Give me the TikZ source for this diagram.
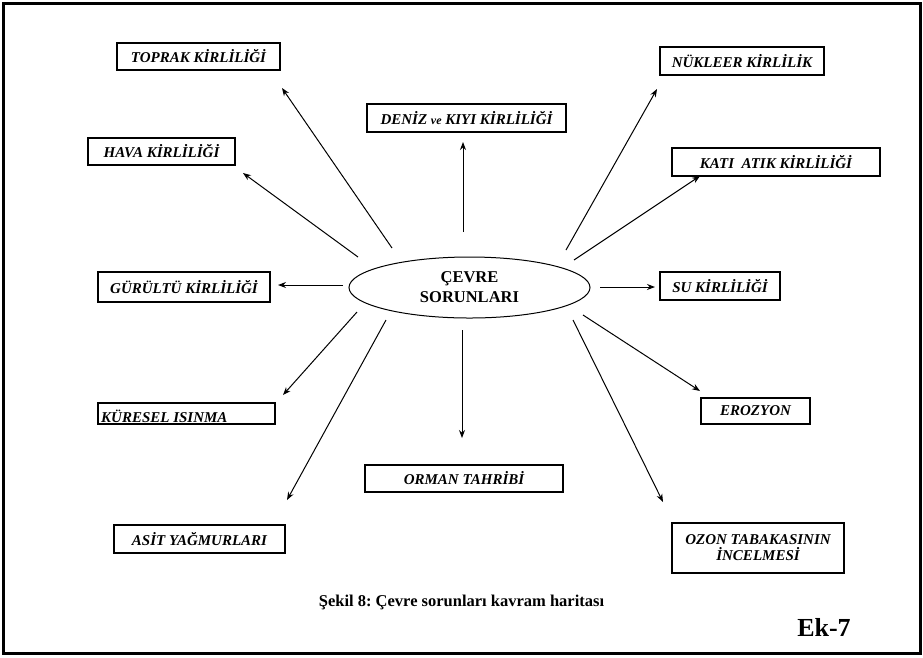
\documentclass[tikz,border=0pt]{standalone}
\usepackage{fontspec}
\setmainfont{Liberation Serif}
\frenchspacing
\usetikzlibrary{arrows,arrows.meta,shapes}
\tikzset{
    kutu/.style={draw=black, line width=1.1pt, rectangle, inner sep=0pt,
        font=\bfseries\itshape\fontsize{15}{16}\selectfont},
    merkez/.style={draw=black, line width=1pt, ellipse, inner sep=0pt,
        minimum width=241pt, minimum height=61pt, align=center,
        font=\bfseries\fontsize{16.5}{20}\selectfont},
    ok/.style={draw=black, line width=1pt, -{Stealth[length=8pt,width=6pt]}},
}

\begin{document}
\begin{tikzpicture}[x=1pt, y=-1pt]
	\useasboundingbox (0,0) rectangle (923,657);
	\draw[line width=3pt] (3,3) rectangle (920,653);
	% merkez
	\node[merkez] (cevre) at (469.5,287.5) {ÇEVRE\\SORUNLARI};
	% kutular
	\node[kutu, minimum width=163pt, minimum height=27pt] (toprak) at (198.5,56.5) {TOPRAK KİRLİLİĞİ};
	\node[kutu, minimum width=199pt, minimum height=28pt] (deniz) at (466.5,118) {DENİZ {\fontsize{12}{14}\selectfont ve} KIYI KİRLİLİĞİ};
	\node[kutu, minimum width=164pt, minimum height=28pt] (nukleer) at (742,61) {NÜKLEER KİRLİLİK};
	\node[kutu, minimum width=147pt, minimum height=27pt] (hava) at (161.5,151.5) {HAVA KİRLİLİĞİ};
	\node[kutu, minimum width=208pt, minimum height=28pt] (kati) at (776,162) {KATI\ \ ATIK KİRLİLİĞİ};
	\node[kutu, minimum width=172pt, minimum height=30pt] (gurultu) at (184,287) {GÜRÜLTÜ KİRLİLİĞİ};
	\node[kutu, minimum width=120pt, minimum height=28pt] (su) at (720,286) {SU KİRLİLİĞİ};
	\draw[line width=1.1pt] (98,403) rectangle (275,424);
	\node[anchor=base west, inner sep=0pt, font=\bfseries\itshape\fontsize{15}{16}\selectfont] (kuresel) at (101,422) {KÜRESEL ISINMA};
	\node[kutu, minimum width=198pt, minimum height=27pt] (orman) at (464,478.5) {ORMAN TAHRİBİ};
	\node[kutu, minimum width=109pt, minimum height=26pt] (erozyon) at (755.5,411) {EROZYON};
	\node[kutu, minimum width=172pt, minimum height=50pt, align=center] (ozon) at (758,548) {OZON TABAKASININ\\İNCELMESİ};
	\node[kutu, minimum width=171pt, minimum height=28pt] (asit) at (199.5,539) {ASİT YAĞMURLARI};
	% oklar
	\coordinate (toprak-a) at (392,248);  \coordinate (toprak-b) at (282,88);
	\coordinate (deniz-a) at (463,232);   \coordinate (deniz-b) at (463,142);
	\coordinate (nukleer-a) at (566,250); \coordinate (nukleer-b) at (657,89);
	\coordinate (hava-a) at (358,257);    \coordinate (hava-b) at (243,173);
	\coordinate (kati-a) at (574,260);    \coordinate (kati-b) at (700,176);
	\coordinate (gurultu-a) at (343,285); \coordinate (gurultu-b) at (278,285);
	\coordinate (su-a) at (600,287);      \coordinate (su-b) at (655,287);
	\coordinate (kuresel-a) at (357,312); \coordinate (kuresel-b) at (283,395);
	\coordinate (orman-a) at (462,330);   \coordinate (orman-b) at (462,438);
	\coordinate (erozyon-a) at (583,315); \coordinate (erozyon-b) at (700,391);
	\coordinate (asit-a) at (386,320);    \coordinate (asit-b) at (287,500);
	\coordinate (ozon-a) at (573,320);    \coordinate (ozon-b) at (663,502);
	\draw[ok] (toprak-a) -- (toprak-b);
	\draw[ok] (deniz-a) -- (deniz-b);
	\draw[ok] (nukleer-a) -- (nukleer-b);
	\draw[ok] (hava-a) -- (hava-b);
	\draw[ok] (kati-a) -- (kati-b);
	\draw[ok] (gurultu-a) -- (gurultu-b);
	\draw[ok] (su-a) -- (su-b);
	\draw[ok] (kuresel-a) -- (kuresel-b);
	\draw[ok] (orman-a) -- (orman-b);
	\draw[ok] (erozyon-a) -- (erozyon-b);
	\draw[ok] (asit-a) -- (asit-b);
	\draw[ok] (ozon-a) -- (ozon-b);
	% alt yazilar
	\node[font=\bfseries\fontsize{16.5}{18}\selectfont] (baslik) at (461.5,602) {Şekil 8: Çevre sorunları kavram haritası};
	\node[font=\bfseries\fontsize{26}{28}\selectfont] (ek) at (824,627) {Ek-7};
\end{tikzpicture}
\end{document}
